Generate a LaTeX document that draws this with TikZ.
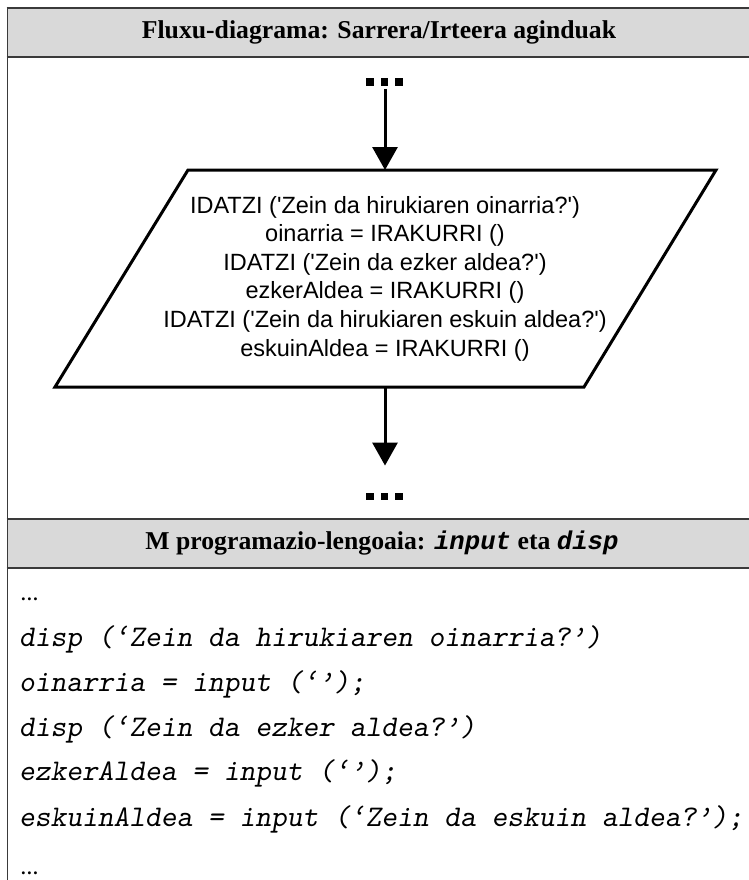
\documentclass[tikz,border=0pt]{standalone}
\usepackage{fontspec}
\setmainfont{Liberation Serif}
\newfontfamily\flowfont{Liberation Sans}[Ligatures=TeXOff]
\newfontfamily\codefont{Liberation Mono}
\usetikzlibrary{arrows.meta}

\definecolor{headgray}{HTML}{D9D9D9}
\definecolor{rulegray}{HTML}{3A3A3A}

\begin{document}
\begin{tikzpicture}[x=1pt,y=-1pt,
  frameline/.style={draw=rulegray,line width=2.2pt},
  headtext/.style={font=\fontsize{25.7}{30}\selectfont\bfseries,inner sep=0pt},
  flowarrow/.style={line width=3pt,-{Triangle[length=23pt,width=25pt]}},
  flowshape/.style={draw=black,line width=3pt,line join=miter},
  flowtext/.style={font=\flowfont\fontsize{23.5}{28.6}\selectfont,align=center,inner sep=0pt},
  dotsbox/.style={inner sep=0pt},
  codeline/.style={font=\ttfamily\slshape\fontsize{30}{34}\selectfont,anchor=mid west,inner sep=0pt},
  codedots/.style={font=\fontsize{18}{20}\selectfont\bfseries\itshape,anchor=base west,inner sep=0pt}
]
\useasboundingbox (0,0) rectangle (748,880);
\fill[white] (0,0) rectangle (748,880);

% header bands
\fill[headgray] (7,8) rectangle (760,57);
\fill[headgray] (7,519) rectangle (760,568);

% frame
\draw[draw=rulegray,line width=1.7pt] (7.5,7) -- (7.5,890);
\draw[frameline,line width=2pt] (6.6,8) -- (760,8);
\draw[frameline] (6.6,57) -- (760,57);
\draw[frameline,line width=2.5pt] (6.6,519) -- (760,519);
\draw[frameline] (6.6,568) -- (760,568);

% header texts
\node[headtext] (headflow) at (379,32.5) {Fluxu-diagrama: Sarrera/Irteera aginduak};
\node[headtext] (headcode) at (382,543.5)
  {M programazio-lengoaia: {\codefont\bfseries\itshape input} eta {\codefont\bfseries\itshape disp}};

% flowchart: input/output parallelogram
\coordinate (ptl) at (188,170);
\coordinate (ptr) at (716,170);
\coordinate (pbr) at (584,387);
\coordinate (pbl) at (55,387);
\coordinate (ptop) at (385,170);
\coordinate (pbot) at (385,387);
\draw[flowshape] (ptl) -- (ptr) -- (pbr) -- (pbl) -- cycle;

\node[flowtext] (iotext) at (385,278.5) {%
  IDATZI ('Zein da hirukiaren oinarria?')\\
  oinarria = IRAKURRI ()\\
  IDATZI ('Zein da ezker aldea?')\\
  ezkerAldea = IRAKURRI ()\\
  IDATZI ('Zein da hirukiaren eskuin aldea?')\\
  eskuinAldea = IRAKURRI ()};

% continuation marks
\node[dotsbox] (dtop) at (384.5,82)
  {\rule{7.5pt}{7.5pt}\hspace{7pt}\rule{7.5pt}{7.5pt}\hspace{7pt}\rule{7.5pt}{7.5pt}};
\node[dotsbox] (dbot) at (384.5,496.5)
  {\rule{7.5pt}{7.5pt}\hspace{7pt}\rule{7.5pt}{7.5pt}\hspace{7pt}\rule{7.5pt}{7.5pt}};

\draw[flowarrow,shorten <=3pt] (dtop.south -| ptop) -- (ptop);
\draw[flowarrow,shorten >=27pt] (pbot) -- (dbot.north -| pbot);

% M code
\node[codedots] (cdots1) at (21,600.5) {…};
\node[codeline] (c1) at (19,644) {disp (‘Zein da hirukiaren oinarria?’)};
\node[codeline] (c2) at (19,689) {oinarria = input (‘’);};
\node[codeline] (c3) at (19,734) {disp (‘Zein da ezker aldea?’)};
\node[codeline] (c4) at (19,778) {ezkerAldea = input (‘’);};
\node[codeline] (c5) at (19,824) {eskuinAldea = input (‘Zein da eskuin aldea?’);};
\node[codedots] (cdots2) at (21,874.5) {…};
\end{tikzpicture}
\end{document}
